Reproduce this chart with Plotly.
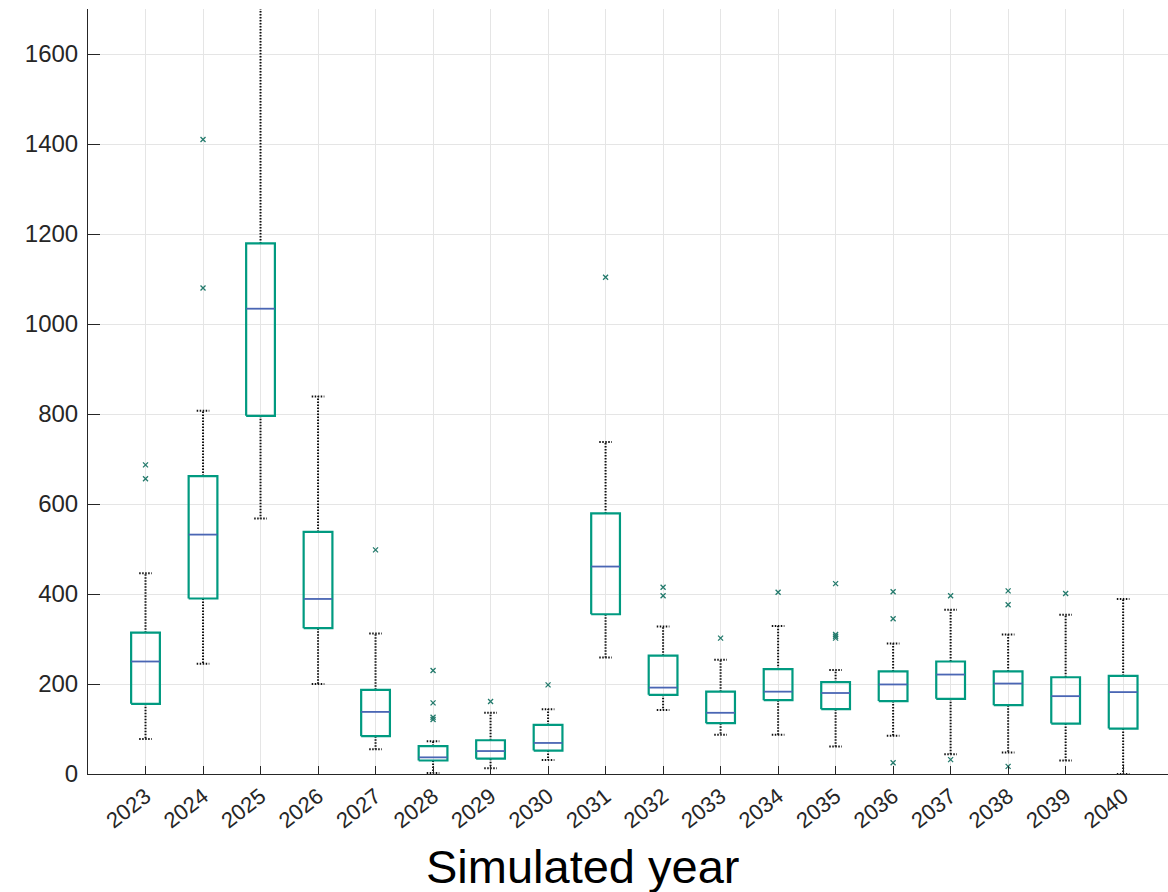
import plotly.graph_objects as go

years = list(range(2023, 2041))
q1 = [156, 390, 796, 324, 84, 30, 34, 52, 355, 176, 113, 164, 144, 162, 167, 153, 112, 101]
medians = [250, 532, 1034, 389, 138, 37, 51, 69, 461, 192, 136, 183, 180, 199, 221, 201, 173, 182]
q3 = [314, 662, 1179, 538, 187, 62, 75, 109, 579, 263, 183, 233, 204, 228, 250, 228, 215, 218]
whisk_lo = [78, 245, 568, 200, 55, 2, 13, 31, 259, 142, 87, 87, 61, 85, 44, 48, 30, 0]
whisk_hi = [446, 807, 1850, 839, 312, 73, 136, 144, 738, 328, 254, 329, 231, 290, 365, 310, 354, 389]
outliers = [
    [687, 656], [1080, 1410], [], [], [498], [230, 158, 126, 121], [161], [198],
    [1104], [415, 396], [302], [404], [423, 310, 306, 302], [405, 345, 25],
    [396, 32], [407, 376, 17], [401], [],
]

positions = list(range(1, len(years) + 1))
BOX_HW = 0.25
CAP_HW = 0.11

box_x, box_y = [], []
med_x, med_y = [], []
wh_x, wh_y = [], []
out_x, out_y = [], []
for p, a, m, b, lo, hi, outs in zip(positions, q1, medians, q3, whisk_lo, whisk_hi, outliers):
    box_x += [p - BOX_HW, p + BOX_HW, p + BOX_HW, p - BOX_HW, p - BOX_HW, None]
    box_y += [a, a, b, b, a, None]
    med_x += [p - BOX_HW, p + BOX_HW, None]
    med_y += [m, m, None]
    wh_x += [p, p, None, p, p, None, p - CAP_HW, p + CAP_HW, None, p - CAP_HW, p + CAP_HW, None]
    wh_y += [b, hi, None, a, lo, None, hi, hi, None, lo, lo, None]
    for o in outs:
        out_x.append(p)
        out_y.append(o)

fig = go.Figure()
fig.add_trace(go.Scatter(x=wh_x, y=wh_y, mode="lines",
                         line=dict(color="#111111", width=2, dash="1.5px,1.5px"),
                         hoverinfo="skip", showlegend=False))
fig.add_trace(go.Scatter(x=box_x, y=box_y, mode="lines",
                         line=dict(color="#009a80", width=2.2),
                         hoverinfo="skip", showlegend=False))
fig.add_trace(go.Scatter(x=med_x, y=med_y, mode="lines",
                         line=dict(color="#4a66b4", width=1.8),
                         hoverinfo="skip", showlegend=False))
fig.add_trace(go.Scatter(x=out_x, y=out_y, mode="markers",
                         marker=dict(symbol="x-thin", size=5,
                                     line=dict(width=1.3, color="#237a6c")),
                         hoverinfo="skip", showlegend=False))

fig.update_layout(
    width=1168, height=892,
    margin=dict(l=88, r=0, t=9, b=118),
    plot_bgcolor="white", paper_bgcolor="white",
    font=dict(family="Liberation Sans, Arial, sans-serif", color="#262626"),
    showlegend=False,
)
fig.update_xaxes(
    range=[0, 18.78], tickvals=positions, ticktext=[str(y) for y in years],
    tickangle=-38, tickfont=dict(size=22, color="#262626"),
    ticks="inside", ticklen=8, tickcolor="#262626",
    showline=True, linecolor="#262626", linewidth=1,
    showgrid=True, gridcolor="#e5e5e5", gridwidth=1, zeroline=False,
)
fig.update_yaxes(
    range=[0, 1700], tickvals=[0, 200, 400, 600, 800, 1000, 1200, 1400, 1600],
    tickfont=dict(size=24, color="#262626"),
    ticks="inside", ticklen=12, tickcolor="#262626",
    showline=True, linecolor="#262626", linewidth=1,
    showgrid=True, gridcolor="#e5e5e5", gridwidth=1, zeroline=False,
    ticklabelstandoff=4,
)
fig.add_annotation(
    text="Simulated year", xref="paper", yref="paper",
    x=0.458, y=-0.121, xanchor="center", yanchor="middle",
    showarrow=False, font=dict(size=47, color="#000000", family="Liberation Sans, Arial, sans-serif"),
)

fig.write_html("out.html")
